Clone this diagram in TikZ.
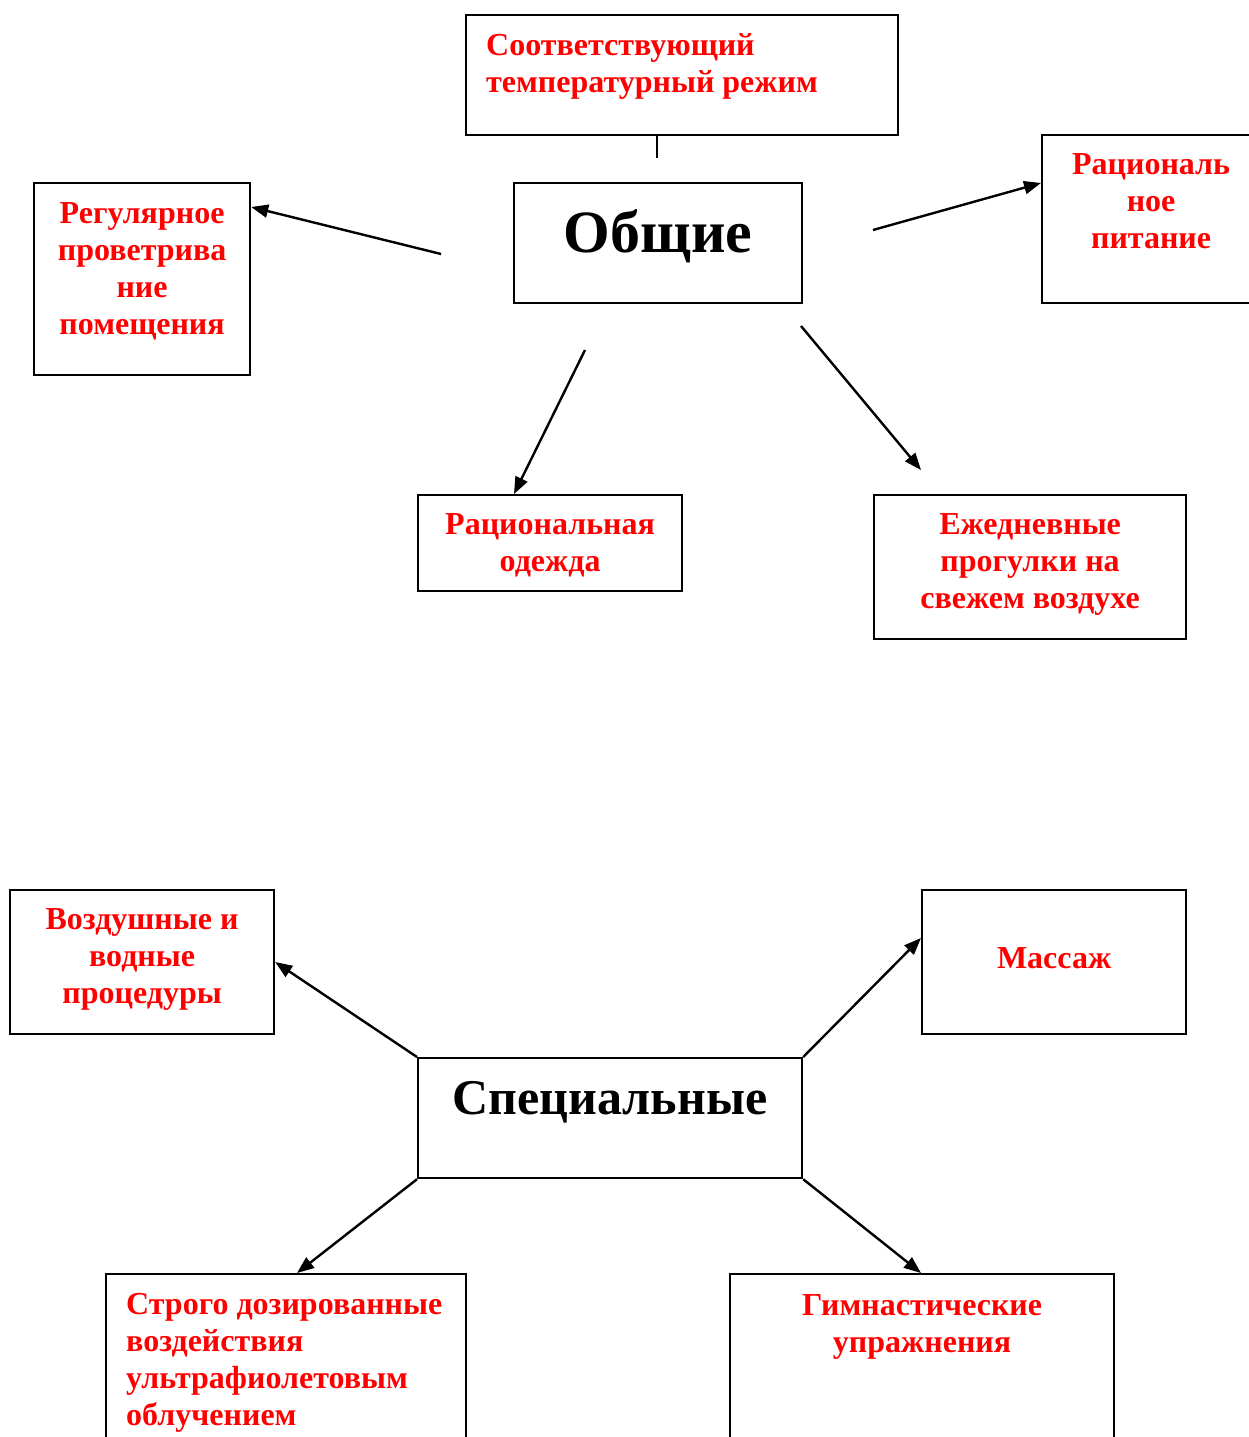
\documentclass[tikz,border=0pt]{standalone}
\usepackage{fontspec}
\setmainfont{Liberation Serif}
\usetikzlibrary{positioning,calc,arrows.meta}
\definecolor{txtred}{RGB}{255,0,0}
\tikzset{
  frame/.style={draw, line width=2.2pt, anchor=north west, inner sep=0pt},
  redtext/.style={text=txtred, font=\bfseries\fontsize{32}{37}\selectfont, inner sep=0pt, align=center},
  headtext/.style={font=\bfseries\fontsize{#1}{#1}\selectfont, inner sep=0pt},
  arr/.style={line width=2.4pt, -{Triangle[length=17pt,width=13pt]}},
}
\begin{document}
\begin{tikzpicture}[x=1pt, y=-1pt]
    \useasboundingbox (0,0) rectangle (1249,1437);
    % upper scheme
    \node[frame, minimum width=288pt, minimum height=120pt] (obsch) at (513,182) {};
    \node[headtext=60, below=27pt of obsch.north] (obsch-t) {Общие};
    \node[frame, minimum width=432pt, minimum height=120pt] (temp) at (465,14) {};
    \node[redtext, align=left, below right=19pt and 21pt of temp.north west] (temp-t) {Соответствующий\\температурный режим};
    \node[frame, minimum width=216pt, minimum height=192pt] (vent) at (33,182) {};
    \node[redtext, below=20pt of vent.north] (vent-t) {Регулярное\\проветрива\\ние\\помещения};
    \node[frame, minimum width=218pt, minimum height=168pt] (food) at (1041,134) {};
    \node[redtext, below=19pt of food.north] (food-t) {Рациональ\\ное\\питание};
    \node[frame, minimum width=264pt, minimum height=96pt] (cloth) at (417,494) {};
    \node[redtext, below=19pt of cloth.north] (cloth-t) {Рациональная\\одежда};
    \node[frame, minimum width=312pt, minimum height=144pt] (walk) at (873,494) {};
    \node[redtext, below=19pt of walk.north] (walk-t) {Ежедневные\\прогулки на\\свежем воздухе};

    \coordinate (temp-start) at ($(temp.south west)+(192,0)$);
    \coordinate (temp-end) at (657,158);
    \coordinate (vent-start) at (441,254);
    \coordinate (food-start) at (873,230);
    \coordinate (cloth-start) at (585,350);
    \coordinate (walk-start) at (801,326);
    \coordinate (walk-tip) at ($(walk.north west)+(48,-24)$);

    \draw[line width=2.2pt] (temp-start) -- (temp-end);
    \draw[arr] (vent-start) -- ($(vent.north east)+(0,25)$);
    \draw[arr] (food-start) -- ($(food.north west)+(0,49)$);
    \draw[arr] (cloth-start) -- ($(cloth.north west)+(97,0)$);
    \draw[arr] (walk-start) -- (walk-tip);

    % lower scheme
    \node[frame, minimum width=384pt, minimum height=120pt] (spec) at (417,1057) {};
    \node[headtext=50, below=24pt of spec.north] (spec-t) {Специальные};
    \node[frame, minimum width=264pt, minimum height=144pt] (air) at (9,889) {};
    \node[redtext, below=19pt of air.north] (air-t) {Воздушные и\\водные\\процедуры};
    \node[frame, minimum width=264pt, minimum height=144pt] (massage) at (921,889) {};
    \node[redtext, below=58pt of massage.north] (massage-t) {Массаж};
    \node[frame, minimum width=360pt, minimum height=200pt] (uv) at (105,1273) {};
    \node[redtext, align=left, below right=20pt and 21pt of uv.north west] (uv-t) {Строго дозированные\\воздействия\\ультрафиолетовым\\облучением};
    \node[frame, minimum width=384pt, minimum height=200pt] (gym) at (729,1273) {};
    \node[redtext, below=21pt of gym.north] (gym-t) {Гимнастические\\упражнения};

    \draw[arr] (spec.north west) -- ($(air.north east)+(0,73)$);
    \draw[arr] (spec.north east) -- ($(massage.north west)+(0,49)$);
    \draw[arr] (spec.south west) -- ($(uv.north west)+(192,0)$);
    \draw[arr] (spec.south east) -- ($(gym.north west)+(192,0)$);
\end{tikzpicture}
\end{document}
